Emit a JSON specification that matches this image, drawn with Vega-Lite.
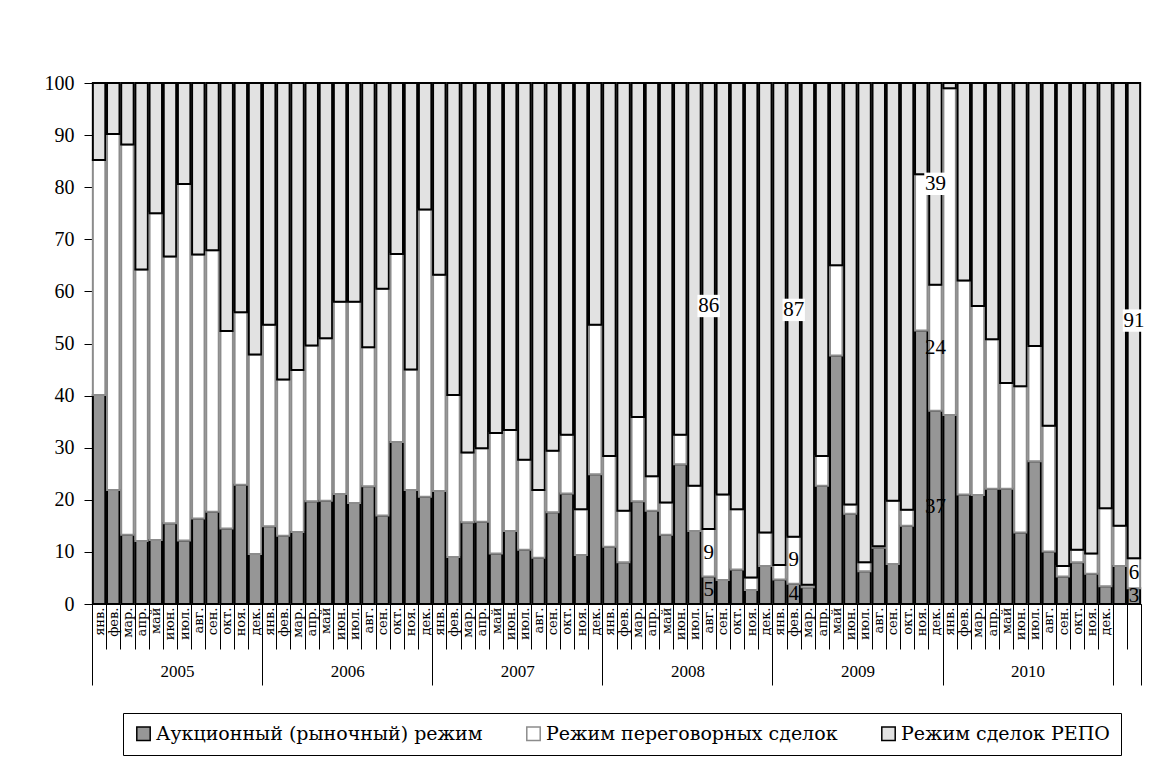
{
  "$schema": "https://vega.github.io/schema/vega-lite/v6.json",
  "width": 1049,
  "height": 521,
  "autosize": {"type": "none"},
  "padding": {"left": 92, "top": 83, "right": 19, "bottom": 166},
  "background": "white",
  "layer": [
    {
      "data": {"values": [
        {"m":"2005-01","a":40.1,"n":45.1,"r":14.8},
        {"m":"2005-02","a":21.9,"n":68.3,"r":9.8},
        {"m":"2005-03","a":13.3,"n":74.9,"r":11.8},
        {"m":"2005-04","a":12.1,"n":52.1,"r":35.8},
        {"m":"2005-05","a":12.3,"n":62.7,"r":25.0},
        {"m":"2005-06","a":15.5,"n":51.2,"r":33.3},
        {"m":"2005-07","a":12.2,"n":68.4,"r":19.4},
        {"m":"2005-08","a":16.4,"n":50.7,"r":32.9},
        {"m":"2005-09","a":17.7,"n":50.2,"r":32.1},
        {"m":"2005-10","a":14.5,"n":37.9,"r":47.6},
        {"m":"2005-11","a":22.9,"n":33.1,"r":44.0},
        {"m":"2005-12","a":9.6,"n":38.3,"r":52.1},
        {"m":"2006-01","a":14.9,"n":38.7,"r":46.4},
        {"m":"2006-02","a":13.1,"n":30.0,"r":56.9},
        {"m":"2006-03","a":13.8,"n":31.1,"r":55.1},
        {"m":"2006-04","a":19.7,"n":29.9,"r":50.4},
        {"m":"2006-05","a":19.8,"n":31.2,"r":49.0},
        {"m":"2006-06","a":21.1,"n":36.9,"r":42.0},
        {"m":"2006-07","a":19.4,"n":38.6,"r":42.0},
        {"m":"2006-08","a":22.6,"n":26.7,"r":50.7},
        {"m":"2006-09","a":17.0,"n":43.5,"r":39.5},
        {"m":"2006-10","a":31.1,"n":36.1,"r":32.8},
        {"m":"2006-11","a":21.9,"n":23.1,"r":55.0},
        {"m":"2006-12","a":20.6,"n":55.1,"r":24.3},
        {"m":"2007-01","a":21.7,"n":41.5,"r":36.8},
        {"m":"2007-02","a":9.0,"n":31.1,"r":59.9},
        {"m":"2007-03","a":15.7,"n":13.4,"r":70.9},
        {"m":"2007-04","a":15.8,"n":14.1,"r":70.1},
        {"m":"2007-05","a":9.7,"n":23.1,"r":67.2},
        {"m":"2007-06","a":14.0,"n":19.4,"r":66.6},
        {"m":"2007-07","a":10.4,"n":17.3,"r":72.3},
        {"m":"2007-08","a":8.9,"n":13.0,"r":78.1},
        {"m":"2007-09","a":17.6,"n":11.8,"r":70.6},
        {"m":"2007-10","a":21.2,"n":11.3,"r":67.5},
        {"m":"2007-11","a":9.4,"n":8.8,"r":81.8},
        {"m":"2007-12","a":24.9,"n":28.7,"r":46.4},
        {"m":"2008-01","a":11.0,"n":17.4,"r":71.6},
        {"m":"2008-02","a":8.0,"n":9.9,"r":82.1},
        {"m":"2008-03","a":19.7,"n":16.2,"r":64.1},
        {"m":"2008-04","a":17.9,"n":6.6,"r":75.5},
        {"m":"2008-05","a":13.3,"n":6.2,"r":80.5},
        {"m":"2008-06","a":26.8,"n":5.7,"r":67.5},
        {"m":"2008-07","a":14.0,"n":8.7,"r":77.3},
        {"m":"2008-08","a":5.3,"n":9.1,"r":85.6,"lab":true},
        {"m":"2008-09","a":4.6,"n":16.4,"r":79.0},
        {"m":"2008-10","a":6.6,"n":11.6,"r":81.8},
        {"m":"2008-11","a":2.7,"n":2.4,"r":94.9},
        {"m":"2008-12","a":7.3,"n":6.4,"r":86.3},
        {"m":"2009-01","a":4.7,"n":2.8,"r":92.5},
        {"m":"2009-02","a":3.9,"n":9.0,"r":87.1,"lab":true},
        {"m":"2009-03","a":3.2,"n":0.5,"r":96.3},
        {"m":"2009-04","a":22.7,"n":5.7,"r":71.6},
        {"m":"2009-05","a":47.7,"n":17.3,"r":35.0},
        {"m":"2009-06","a":17.3,"n":1.8,"r":80.9},
        {"m":"2009-07","a":6.3,"n":1.7,"r":92.0},
        {"m":"2009-08","a":10.8,"n":0.3,"r":88.9},
        {"m":"2009-09","a":7.7,"n":12.1,"r":80.2},
        {"m":"2009-10","a":15.0,"n":3.1,"r":81.9},
        {"m":"2009-11","a":52.5,"n":30.0,"r":17.5},
        {"m":"2009-12","a":37.1,"n":24.2,"r":38.7,"lab":true},
        {"m":"2010-01","a":36.3,"n":62.7,"r":1.0},
        {"m":"2010-02","a":21.0,"n":41.1,"r":37.9},
        {"m":"2010-03","a":20.9,"n":36.3,"r":42.8},
        {"m":"2010-04","a":22.1,"n":28.7,"r":49.2},
        {"m":"2010-05","a":22.1,"n":20.3,"r":57.6},
        {"m":"2010-06","a":13.7,"n":28.1,"r":58.2},
        {"m":"2010-07","a":27.4,"n":22.1,"r":50.5},
        {"m":"2010-08","a":10.1,"n":24.1,"r":65.8},
        {"m":"2010-09","a":5.3,"n":2.0,"r":92.7},
        {"m":"2010-10","a":8.0,"n":2.4,"r":89.6},
        {"m":"2010-11","a":5.8,"n":3.9,"r":90.3},
        {"m":"2010-12","a":3.4,"n":15.0,"r":81.6},
        {"m":"2011-01","a":7.3,"n":7.7,"r":85.0},
        {"m":"2011-02","a":3.0,"n":5.8,"r":91.2,"lab":true}
      ]},
      "transform": [{"fold": ["a", "n", "r"], "as": ["s", "v"]}],
      "layer": [
        {
          "mark": {"type": "bar", "width": {"band": 0.88}, "strokeWidth": 2},
          "encoding": {
            "x": {
              "field": "m", "type": "ordinal",
              "scale": {"paddingInner": 0, "paddingOuter": 0},
              "axis": {
                "title": null,
                "orient": "bottom",
                "labelAngle": -90,
                "labelAlign": "right",
                "labelBaseline": "middle",
                "labelExpr": "substring(datum.value, 0, 4) === '2011' ? '' : ['янв.','фев.','мар.','апр.','май','июн.','июл.','авг.','сен.','окт.','ноя.','дек.'][toNumber(substring(datum.value, 5, 7)) - 1]",
                "labelFont": "DejaVu Serif",
                "labelFontSize": 13,
                "labelColor": "black",
                "labelPadding": -42,
                "labelOverlap": false,
                "tickBand": "extent",
                "tickSize": 45,
                "tickColor": "black",
                "tickWidth": 1,
                "domainColor": "black",
                "domainWidth": 1,
                "grid": false
              }
            },
            "y": {
              "field": "v", "type": "quantitative", "stack": "zero",
              "scale": {"domain": [0, 100], "nice": false},
              "axis": {
                "title": null,
                "values": [0, 10, 20, 30, 40, 50, 60, 70, 80, 90, 100],
                "tickSize": 8,
                "tickColor": "black",
                "domainColor": "black",
                "labelFont": "Liberation Serif",
                "labelFontSize": 20,
                "labelColor": "black",
                "labelPadding": 10,
                "grid": false
              }
            },
            "order": {"field": "s", "sort": "ascending"},
            "fill": {
              "field": "s", "type": "nominal",
              "scale": {"domain": ["a", "n", "r"], "range": ["#969696", "#ffffff", "#e2e2e2"]},
              "legend": {
                "title": null,
                "orient": "none",
                "legendX": 31,
                "legendY": 630,
                "direction": "horizontal",
                "labelFont": "DejaVu Serif",
                "labelFontSize": 19,
                "labelColor": "black",
                "labelLimit": 0,
                "labelOffset": 3,
                "symbolType": "square",
                "symbolSize": 180,
                "symbolStrokeWidth": 1.5,
                "strokeColor": "black",
                "padding": 11,
                "columnPadding": 40,
                "labelExpr": "datum.value === 'a' ? 'Аукционный (рыночный) режим' : datum.value === 'n' ? 'Режим переговорных сделок' : 'Режим сделок РЕПО'"
              }
            },
            "stroke": {
              "field": "s", "type": "nominal",
              "scale": {"domain": ["a", "n", "r"], "range": ["#000000", "#8c8c8c", "#000000"]},
              "legend": {
                "title": null,
                "orient": "none",
                "legendX": 31,
                "legendY": 630,
                "direction": "horizontal",
                "labelFont": "DejaVu Serif",
                "labelFontSize": 19,
                "labelColor": "black",
                "labelLimit": 0,
                "labelOffset": 3,
                "symbolType": "square",
                "symbolSize": 180,
                "symbolStrokeWidth": 1.5,
                "strokeColor": "black",
                "padding": 11,
                "columnPadding": 40,
                "labelExpr": "datum.value === 'a' ? 'Аукционный (рыночный) режим' : datum.value === 'n' ? 'Режим переговорных сделок' : 'Режим сделок РЕПО'"
              }
            }
          }
        },
        {
          "mark": {"type": "point", "shape": "square", "filled": true, "color": "white", "size": 500},
          "encoding": {
            "x": {"field": "m", "type": "ordinal"},
            "y": {"field": "v", "type": "quantitative", "stack": "zero", "bandPosition": 0.5},
            "detail": {"field": "s"},
            "order": {"field": "s", "sort": "ascending"},
            "opacity": {"condition": {"test": "datum.lab === true && datum.s === 'r'", "value": 1}, "value": 0}
          }
        },
        {
          "mark": {"type": "text", "font": "Liberation Serif", "fontSize": 21, "color": "black", "baseline": "middle", "align": "center"},
          "encoding": {
            "x": {"field": "m", "type": "ordinal"},
            "y": {"field": "v", "type": "quantitative", "stack": "zero", "bandPosition": 0.5},
            "detail": {"field": "s"},
            "order": {"field": "s", "sort": "ascending"},
            "text": {"condition": {"test": "datum.lab === true", "field": "v", "type": "quantitative", "format": ".0f"}, "value": ""}
          }
        }
      ]
    },
    {
      "data": {"values": [{}]},
      "mark": {"type": "rule", "opacity": 0},
      "encoding": {
        "x": {
          "datum": 0, "type": "quantitative",
          "scale": {"domain": [0, 74], "nice": false, "zero": false},
          "axis": {
            "orient": "bottom",
            "title": null,
            "domain": false,
            "grid": false,
            "values": [0, 6, 12, 18, 24, 30, 36, 42, 48, 54, 60, 66, 72, 74],
            "tickSize": 81,
            "tickWidth": 1,
            "tickColor": {"condition": {"test": "datum.value % 12 === 0 || datum.value === 74", "value": "black"}, "value": "transparent"},
            "labelExpr": "datum.value % 12 === 6 ? ['2005','2006','2007','2008','2009','2010'][(datum.value - 6) / 12] : ''",
            "labelFont": "Liberation Serif",
            "labelFontSize": 17,
            "labelColor": "black",
            "labelPadding": -22,
            "labelFlush": false,
            "labelOverlap": false,
            "labelAngle": 0
          }
        }
      }
    }
  ],
  "resolve": {"scale": {"x": "independent"}},
  "config": {
    "view": {"stroke": null},
    "font": "Liberation Serif"
  }
}
